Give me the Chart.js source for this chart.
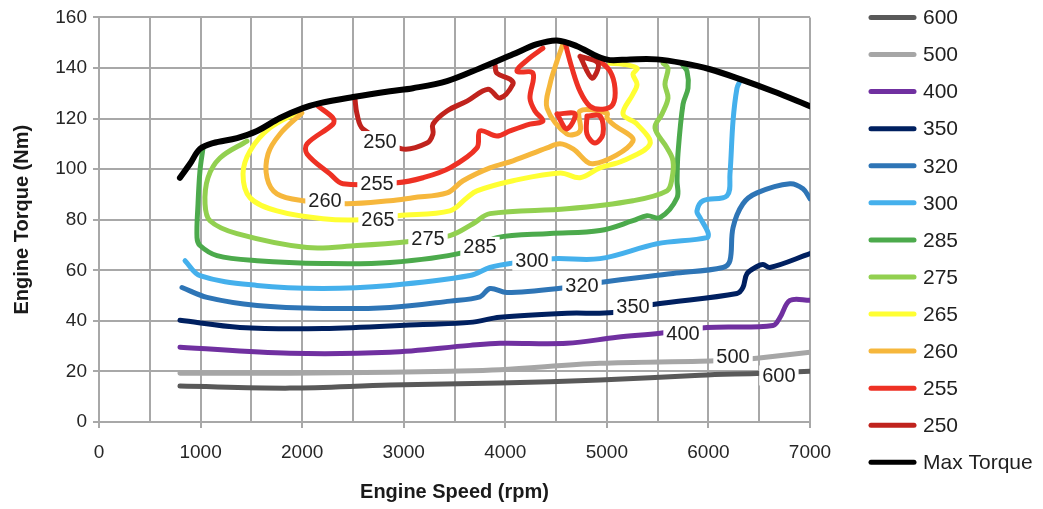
<!DOCTYPE html>
<html>
<head>
<meta charset="utf-8">
<script src="https://cdn.jsdelivr.net/npm/chart.js@4/dist/chart.umd.min.js"></script>
<style>
  html, body { margin: 0; padding: 0; background: #fff; }
  #wrap { width: 1043px; height: 509px; }
</style>
</head>
<body>
<div id="wrap"><canvas id="c" width="1043" height="509"></canvas></div>
<script>
// Engine BSFC map: iso-consumption contours (g/kWh) over speed/torque plane

const xTicks = [0, 1000, 2000, 3000, 4000, 5000, 6000, 7000];
const yTicks = [0, 20, 40, 60, 80, 100, 120, 140, 160];

// Full-load curve
const maxRpm = [797, 896, 994, 1122, 1359, 1556, 1782, 2008, 2176, 2501, 2865, 3091, 3426, 3751, 4076, 4312, 4509, 4706, 4903, 5031, 5228, 5494, 5750, 6015, 6311, 6636, 7000];
const maxNm  = [96.6, 102.1, 108.0, 110.3, 112.3, 115.1, 120.2, 124.1, 126.1, 128.5, 130.8, 132.0, 134.8, 139.9, 145.4, 149.4, 150.9, 148.6, 144.6, 143.1, 143.4, 143.4, 141.9, 139.5, 135.6, 130.8, 124.9];

// 600 g/kWh
const rpm600 = [797, 1880, 2865, 3948, 4932, 5917, 6527, 7000];
const nm600  = [14.2, 13.4, 14.6, 15.4, 16.6, 18.5, 19.3, 20.1];

// 500 g/kWh
const rpm500 = [797, 1880, 2865, 3455, 3948, 4932, 5917, 6311, 6478, 7000];
const nm500  = [19.3, 19.3, 19.7, 20.1, 20.7, 23.2, 24.0, 24.6, 25.2, 27.6];

// 400 g/kWh
const rpm400 = [797, 1880, 2865, 3652, 3948, 4607, 5100, 5523, 5986, 6636, 6705, 6803, 7000];
const nm400  = [29.6, 27.2, 27.6, 30.3, 31.1, 31.1, 33.5, 35.1, 37.4, 38.2, 41.4, 48.1, 48.1];

// 350 g/kWh
const rpm350 = [797, 1388, 2205, 3190, 3652, 3948, 4607, 5060, 5454, 6281, 6340, 6380, 6478, 6537, 6606, 7000];
const nm350  = [40.2, 37.4, 37.0, 38.6, 39.4, 41.4, 43.0, 43.3, 46.5, 50.8, 53.2, 58.7, 61.5, 62.3, 61.1, 66.6];

// 320 g/kWh
const rpm320 = [817, 1063, 1556, 2205, 2865, 3455, 3751, 3849, 4017, 4607, 4932, 5651, 6143, 6212, 6242, 6340, 6478, 6803, 6931, 7000];
const nm320  = [53.2, 49.3, 46.1, 44.9, 45.3, 47.8, 49.5, 52.8, 51.2, 53.2, 55.2, 58.7, 61.1, 63.8, 76.8, 86.3, 90.6, 94.2, 92.2, 88.3];

// 300 g/kWh
const rpm300 = [847, 994, 1556, 2205, 2865, 3652, 3849, 4046, 4470, 4932, 5494, 5986, 5996, 5917, 5887, 5947, 6183, 6212, 6242, 6281, 6311];
const nm300  = [63.8, 57.9, 54.0, 52.8, 54.0, 57.9, 61.1, 62.7, 64.6, 64.6, 70.5, 72.9, 74.9, 80.8, 83.5, 87.5, 89.5, 98.1, 119.0, 132.0, 134.8];

// 285 g/kWh
const rpm285 = [1024, 994, 975, 965, 994, 1162, 1556, 2205, 2865, 3584, 3918, 4440, 4932, 5257, 5395, 5523, 5691, 5691, 5700, 5750, 5799, 5789, 5740];
const nm285  = [108.4, 99.3, 86.3, 72.9, 69.8, 65.8, 63.8, 62.7, 63.1, 67.0, 72.9, 74.5, 75.7, 79.6, 81.6, 80.8, 88.7, 95.4, 106.0, 125.7, 132.0, 138.7, 141.5];

// 275 g/kWh
const rpm275 = [1457, 1191, 1073, 1044, 1093, 1359, 2048, 2540, 3032, 3455, 3682, 3849, 4607, 5257, 5592, 5641, 5651, 5592, 5474, 5543, 5602, 5572, 5602, 5553];
const nm275  = [111.1, 104.4, 96.6, 86.3, 79.6, 74.5, 69.0, 69.8, 71.3, 73.7, 78.4, 82.4, 84.3, 87.5, 91.4, 96.2, 103.3, 108.4, 116.3, 121.8, 128.1, 133.6, 139.9, 141.9];

// 265 g/kWh
const rpm265 = [1979, 1683, 1487, 1418, 1487, 1752, 2205, 2570, 2944, 3455, 3623, 3721, 4076, 4539, 4736, 4932, 5159, 5425, 5297, 5159, 5257, 5297, 5257, 5297, 5159, 5031];
const nm265  = [123.0, 116.3, 107.2, 98.1, 88.7, 83.5, 80.4, 80.0, 81.6, 83.5, 88.7, 91.4, 95.4, 98.5, 96.6, 100.5, 103.3, 110.0, 117.8, 121.8, 129.7, 133.6, 137.5, 139.9, 141.5, 141.9];

// 260 g/kWh
const rpm260 = [1998, 1782, 1664, 1654, 1752, 2008, 2442, 2865, 3091, 3426, 3584, 3849, 4076, 4411, 4539, 4667, 4864, 5257, 5060, 5001, 5001, 4736, 4736, 4607, 4411, 4440, 4509, 4568];
const nm260  = [122.2, 113.9, 106.0, 96.6, 90.2, 87.5, 86.3, 87.5, 88.7, 90.6, 95.4, 100.5, 103.3, 108.4, 110.0, 108.0, 102.1, 111.1, 117.8, 120.2, 122.2, 123.0, 115.1, 113.9, 124.1, 133.6, 142.7, 149.4];

// 255 g/kWh (main branch, right branch, two islands)
const rpm255a = [2156, 2304, 2304, 2048, 2048, 2274, 2402, 2934, 3190, 3455, 3721, 3751, 3918, 4046, 4243, 4371, 4292, 4243, 4273, 4115, 4224, 4371];
const nm255a  = [124.9, 120.2, 117.8, 110.0, 106.0, 98.1, 94.2, 94.6, 96.6, 100.5, 108.4, 115.1, 113.1, 115.1, 117.8, 119.0, 123.0, 128.1, 137.9, 138.7, 143.4, 147.8];
const rpm255b = [4588, 4657, 4736, 4834, 4962, 5060, 5080, 5031, 4913];
const nm255b  = [150.1, 139.9, 130.8, 124.9, 123.7, 125.7, 132.0, 138.7, 143.4];
const rpm255c = [4804, 4932, 4962, 4883, 4804, 4804];
const nm255c  = [121.0, 121.0, 113.9, 110.3, 113.9, 121.0];
const rpm255d = [4509, 4686, 4607, 4509];
const nm255d  = [121.8, 121.8, 115.9, 121.8];

// 250 g/kWh (main branch, island)
const rpm250a = [2520, 2540, 2599, 2983, 3229, 3288, 3288, 3426, 3623, 3830, 3948, 4076, 4046, 3918, 3899];
const nm250a  = [127.7, 121.8, 115.9, 108.0, 110.3, 113.9, 117.8, 123.0, 126.9, 131.6, 128.1, 133.6, 135.6, 137.9, 141.1];
const rpm250b = [4736, 4913, 4854, 4736];
const nm250b  = [144.6, 141.9, 136.0, 144.6];

// Inline contour labels: value, rpm, torque
const labelText = ['600', '500', '400', '350', '320', '300', '285', '275', '265', '260', '255', '250'];
const labelRpm  = [6694, 6242, 5750, 5257, 4755, 4263, 3751, 3239, 2747, 2225, 2737, 2766];
const labelNm   = [18.4, 26.0, 35.1, 45.5, 54.0, 63.8, 69.3, 72.5, 80.0, 87.5, 94.2, 111.1];

// Legend order
const legendNames = ['600', '500', '400', '350', '320', '300', '285', '275', '265', '260', '255', '250', 'Max Torque'];

const palette = {
  '600': '#595959', '500': '#a6a6a6', '400': '#7030a0', '350': '#002060',
  '320': '#2e75b6', '300': '#45b0ec', '285': '#4caa4c', '275': '#92d050',
  '265': '#ffff33', '260': '#f6b73c', '255': '#ee3124', '250': '#c0231d',
  'Max Torque': '#000000'
};

const FONT = '"Liberation Sans", Arial, sans-serif';

function series(name, xs, ys, width) {
  return {
    label: name,
    data: xs.map((x, i) => ({ x: x, y: ys[i] })),
    borderColor: palette[name],
    backgroundColor: palette[name],
    borderWidth: width,
    showLine: true,
    pointRadius: 0,
    pointHoverRadius: 0,
    tension: 0.35,
    fill: false,
    borderCapStyle: 'round',
    borderJoinStyle: 'round'
  };
}

const datasets = [
  series('Max Torque', maxRpm, maxNm, 6),
  series('250', rpm250a, nm250a, 5),
  series('250', rpm250b, nm250b, 5),
  series('255', rpm255a, nm255a, 5),
  series('255', rpm255b, nm255b, 5),
  series('255', rpm255c, nm255c, 5),
  series('255', rpm255d, nm255d, 5),
  series('260', rpm260, nm260, 5),
  series('265', rpm265, nm265, 5),
  series('275', rpm275, nm275, 5),
  series('285', rpm285, nm285, 5),
  series('300', rpm300, nm300, 5),
  series('320', rpm320, nm320, 5),
  series('350', rpm350, nm350, 5),
  series('400', rpm400, nm400, 5),
  series('500', rpm500, nm500, 5),
  series('600', rpm600, nm600, 5)
];

// Inline value labels sitting in a white gap on each contour
const contourLabels = {
  id: 'contourLabels',
  afterDatasetsDraw(chart) {
    const { ctx, scales: { x, y } } = chart;
    ctx.save();
    ctx.font = '20px ' + FONT;
    ctx.textAlign = 'center';
    ctx.textBaseline = 'middle';
    labelText.forEach((t, i) => {
      const px = x.getPixelForValue(labelRpm[i]);
      const py = y.getPixelForValue(labelNm[i]);
      const w = ctx.measureText(t).width;
      ctx.fillStyle = '#ffffff';
      ctx.fillRect(px - w / 2 - 3, py - 10, w + 6, 20);
      ctx.fillStyle = '#1f1f1f';
      ctx.fillText(t, px, py + 1);
    });
    ctx.restore();
  }
};

// Legend column to the right of the plot
const sideLegend = {
  id: 'sideLegend',
  afterDraw(chart) {
    const { ctx, chartArea } = chart;
    const x0 = chartArea.right + 61;
    const step = 37.08;
    ctx.save();
    ctx.font = '21px ' + FONT;
    ctx.textAlign = 'left';
    ctx.textBaseline = 'middle';
    legendNames.forEach((name, i) => {
      const yy = chartArea.top + i * step;
      ctx.strokeStyle = palette[name];
      ctx.lineWidth = 5;
      ctx.lineCap = 'round';
      ctx.beginPath();
      ctx.moveTo(x0, yy);
      ctx.lineTo(x0 + 43, yy);
      ctx.stroke();
      ctx.fillStyle = '#1f1f1f';
      ctx.fillText(name, x0 + 52, yy + 1);
    });
    ctx.restore();
  }
};

new Chart(document.getElementById('c'), {
  type: 'scatter',
  data: { datasets: datasets },
  options: {
    responsive: false,
    animation: false,
    events: [],
    layout: { padding: { top: 16, right: 233, left: 0, bottom: 0 } },
    plugins: {
      legend: { display: false },
      tooltip: { enabled: false }
    },
    scales: {
      x: {
        type: 'linear',
        min: xTicks[0],
        max: xTicks[xTicks.length - 1],
        afterFit(s) { s.height = 87; },
        ticks: {
          stepSize: 500,
          autoSkip: false,
          maxRotation: 0,
          padding: 13,
          color: '#262626',
          font: { family: FONT, size: 19 },
          callback: (v) => (xTicks.includes(v) ? String(v) : '')
        },
        grid: {
          color: '#a8a8a8',
          lineWidth: 2,
          tickLength: 6,
          tickColor: (c) => (c.tick && xTicks.includes(c.tick.value) ? '#a8a8a8' : 'rgba(0,0,0,0)')
        },
        border: { color: '#a8a8a8', width: 2 },
        title: {
          display: true,
          text: 'Engine Speed (rpm)',
          color: '#1a1a1a',
          font: { family: FONT, size: 20, weight: 'bold' },
          padding: { top: 0, bottom: 5 }
        }
      },
      y: {
        type: 'linear',
        min: yTicks[0],
        max: yTicks[yTicks.length - 1],
        afterFit(s) { s.width = 99; },
        ticks: {
          stepSize: 20,
          padding: 6,
          color: '#262626',
          font: { family: FONT, size: 19 }
        },
        grid: { color: '#a8a8a8', lineWidth: 2, tickLength: 6 },
        border: { color: '#a8a8a8', width: 2 },
        title: {
          display: true,
          text: 'Engine Torque (Nm)',
          color: '#1a1a1a',
          font: { family: FONT, size: 20, weight: 'bold' },
          padding: { top: 10, bottom: 0 }
        }
      }
    }
  },
  plugins: [contourLabels, sideLegend]
});
</script>
</body>
</html>
